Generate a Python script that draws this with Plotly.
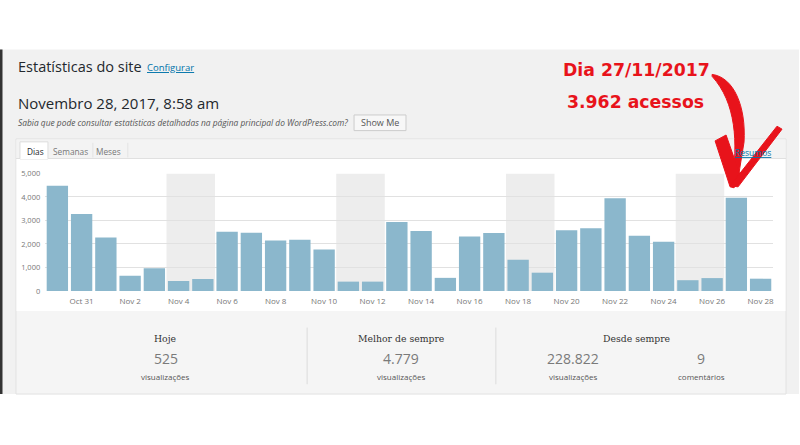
import plotly.graph_objects as go

days = ["Oct 30", "Oct 31", "Nov 1", "Nov 2", "Nov 3", "Nov 4", "Nov 5", "Nov 6",
        "Nov 7", "Nov 8", "Nov 9", "Nov 10", "Nov 11", "Nov 12", "Nov 13", "Nov 14",
        "Nov 15", "Nov 16", "Nov 17", "Nov 18", "Nov 19", "Nov 20", "Nov 21",
        "Nov 22", "Nov 23", "Nov 24", "Nov 25", "Nov 26", "Nov 27", "Nov 28"]
views = [4480, 3280, 2280, 650, 970, 430, 510, 2520, 2480, 2150, 2180, 1770, 400,
         400, 2930, 2550, 560, 2320, 2470, 1330, 780, 2580, 2670, 3950, 2350, 2100,
         460, 550, 3962, 525]
tick_days = ["Oct 31", "Nov 2", "Nov 4", "Nov 6", "Nov 8", "Nov 10", "Nov 12",
             "Nov 14", "Nov 16", "Nov 18", "Nov 20", "Nov 22", "Nov 24", "Nov 26",
             "Nov 28"]
weekends = [("Nov 4", "Nov 5"), ("Nov 11", "Nov 12"), ("Nov 18", "Nov 19"),
            ("Nov 25", "Nov 26")]
y_ticks = [0, 1000, 2000, 3000, 4000, 5000]
tabs = ["Dias", "Semanas", "Meses"]

stat_titles = ["Hoje", "Melhor de sempre", "Desde sempre"]
stat_values = ["525", "4.779", "228.822", "9"]
stat_units = ["visualizações", "visualizações", "visualizações", "comentários"]

W, H = 800, 445
BAR = "#8bb7cc"
RED = "#e8131b"
SANS = "Open Sans, Noto Sans, sans-serif"


def X(p):
    return p / W


def Y(p):
    return 1 - p / H


def rect(x0, y0, x1, y1, fill, line=None, layer="below"):
    return dict(type="rect", xref="paper", yref="paper", x0=X(x0), x1=X(x1),
                y0=Y(y0), y1=Y(y1), fillcolor=fill, layer=layer,
                line=dict(color=line or fill, width=1 if line else 0))


def hline(x0, x1, y, color):
    return dict(type="line", xref="paper", yref="paper", x0=X(x0), x1=X(x1),
                y0=Y(y), y1=Y(y), line=dict(color=color, width=1), layer="below")


def vline(x, y0, y1, color):
    return dict(type="line", xref="paper", yref="paper", x0=X(x), x1=X(x),
                y0=Y(y0), y1=Y(y1), line=dict(color=color, width=1), layer="below")


def poly(cmds):
    # cmds: lista de (comando, [(x, y), ...]) em pixels
    out = []
    for c, pts in cmds:
        xy = [f"{X(a):.5f},{Y(b):.5f}" for a, b in pts]
        if c == "C":
            out.append("C " + " ".join(xy))
        else:
            out += [f"{c} {p}" for p in xy]
    return " ".join(out) + " Z"


def text(x, y, s, size, color="#444", font=SANS, xanchor="left", **kw):
    return dict(x=X(x), y=Y(y), xref="paper", yref="paper", text=s, showarrow=False,
                xanchor=xanchor, yanchor="middle",
                font=dict(size=size, color=color, family=font), **kw)


fig = go.Figure()
fig.add_trace(go.Bar(x=days, y=views, marker=dict(color=BAR, line=dict(width=0)),
                     hoverinfo="x+y"))

shapes = [
    rect(0, 45.5, 800, 398, "#f1f1f1"),
    rect(0, 45.5, 2.5, 398, "#333333"),
    rect(16, 137, 787, 398, "#f5f5f5", line="#e2e2e2"),
    rect(16.5, 137.5, 786.5, 157, "#f3f3f3"),
    hline(16, 787, 157, "#e0e0e0"),
    rect(16.5, 157.5, 786.5, 313, "#ffffff"),
    rect(20, 140, 48, 157.5, "#ffffff", line="#dddddd"),
    hline(20.5, 47.5, 157, "#ffffff"),
    vline(93, 141, 156, "#e3e3e3"),
    vline(128, 141, 156, "#e3e3e3"),
    vline(307.5, 330, 388, "#dcdcdc"),
    vline(496.5, 330, 388, "#dcdcdc"),
    rect(354.5, 112.5, 406.5, 128.5, "#f7f7f7", line="#cccccc"),
]
for a, b in weekends:
    shapes.append(dict(type="rect", xref="x", yref="y", x0=days.index(a) - 0.5,
                       x1=days.index(b) + 0.5, y0=0, y1=y_ticks[-1],
                       fillcolor="#ededed", line=dict(width=0), layer="below"))

# seta vermelha desenhada à mão
arrow = [
    poly([("M", [(713, 71)]), ("C", [(735, 74), (747, 104), (745, 140)]),
          ("L", [(738, 184), (733, 184)]),
          ("C", [(739, 140), (737, 100), (713, 73)])]),
    poly([("M", [(716, 139)]), ("L", [(727, 133), (741, 174), (735, 187), (731, 186)])]),
    poly([("M", [(731, 185)]), ("L", [(778, 124), (783, 127), (739, 186)])]),
]
for p in arrow:
    shapes.append(dict(type="path", xref="paper", yref="paper", path=p,
                       fillcolor=RED, line=dict(color=RED, width=1), layer="above"))

annotations = [
    text(16, 62.5, "Estatísticas do site", 14.5, "#23282d"),
    text(145, 64, "<u>Configurar</u>", 9.5, "#0073aa"),
    text(16, 100, "Novembro 28, 2017, 8:58 am", 15, "#23282d"),
    text(16, 120.5, "<i>Sabia que pode consultar estatísticas detalhadas na página "
                    "principal do WordPress.com?</i>", 8.4, "#555555"),
    text(380.5, 120.5, "Show Me", 9, "#555555", xanchor="center"),
    text(774, 150.5, "<u>Resumos</u>", 8.5, "#0073aa", xanchor="right"),
    text(637, 67, "<b>Dia 27/11/2017</b>", 17.3, RED, font="DejaVu Sans", xanchor="center"),
    text(636, 99.5, "<b>3.962 acessos</b>", 17.3, RED, font="DejaVu Sans", xanchor="center"),
]
tab_x = [35.5, 70.5, 108.5]
for i, t in enumerate(tabs):
    annotations.append(text(tab_x[i], 150, t, 8.3, "#23282d" if i == 0 else "#777777",
                            xanchor="center"))

title_x = [166, 402, 638]
for i, t in enumerate(stat_titles):
    annotations.append(text(title_x[i], 341, t, 9.3, "#333333", font="DejaVu Serif",
                            xanchor="center"))
value_x = [166, 402, 574, 702]
for i, v in enumerate(stat_values):
    annotations.append(text(value_x[i], 362, v, 14, "#7a7a7a", xanchor="center"))
    annotations.append(text(value_x[i], 380, stat_units[i], 8, "#555555",
                            xanchor="center"))

fig.update_layout(
    width=W, height=H, margin=dict(l=0, r=0, t=0, b=0),
    paper_bgcolor="#ffffff", plot_bgcolor="rgba(0,0,0,0)",
    showlegend=False, bargap=0.12,
    shapes=shapes, annotations=annotations,
    font=dict(family=SANS, color="#666666"),
    xaxis=dict(domain=[X(45.3), X(773.7)], type="category", range=[-0.5, 29.5],
               tickvals=tick_days, ticktext=tick_days, showgrid=False, ticks="",
               ticklabelstandoff=4,
               tickfont=dict(size=8, color="#777777"), fixedrange=True),
    yaxis=dict(domain=[Y(292.6), Y(172.3)], range=[0, 5000], tickvals=y_ticks,
               tickformat=",", gridcolor="#e1e1e1", zeroline=False, ticks="",
               ticklabelstandoff=4,
               tickfont=dict(size=7.5, color="#777777"), fixedrange=True),
)

fig.write_html("out.html", config={"displayModeBar": False},
               post_script="document.body.style.margin='0';")
